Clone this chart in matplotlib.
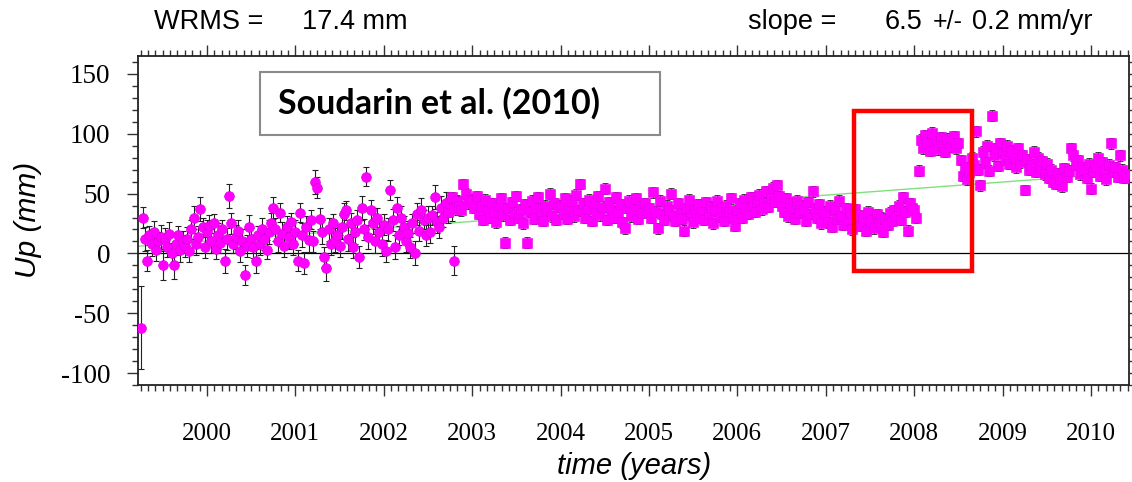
import matplotlib

matplotlib.use("Agg")
import matplotlib.pyplot as plt
import numpy as np
from matplotlib.patches import Rectangle
from matplotlib.ticker import MultipleLocator

# --- data -----------------------------------------------------------------
# early epochs: circles with error bars, one every 0.025 yr from 1999.25
circ_start = 1999.25
circ_step = 0.025
circ_up = [
    -62,
    30, 12, -6, 15, 8, 18, 3, 10, 14, -10,
    12, 5, 16, 0, -10, 8, 15, 3, 10, 6,
    12, 2, 20, 30, 8, 14, 37, 22, 5, 18,
    23, 10, 25, 4, 15, 9, 20, -6, 12, 48,
    25, 8, 14, 19, 2, 10, -18, 6, 22, 12,
    5, -6, 15, 8, 20, 12, 3, 18, 25, 38,
    20, 10, 34, 16, 6, 22, 14, 26, 8, 18,
    -6, 34, 15, -8, 22, 11, 28, 10, 60, 55,
    29, 18, -3, -12, 20, 8, 25, 11, 15, 6,
    22, 33, 36, 12, 25, 5, 18, 28, -3, 38,
    20, 64, 14, 36, 25, 10, 30, 18, 8, 24,
    2, 20, 53, 28, 5, 38, 15, 30, 22, 10,
    17, 5, 25, 0, 33, 19, 36, 28, 15, 30,
    18, 32, 47, 26, 22, 38, 30, 42, 35, 40, 36, -6, 40,
]
circ_err = [
    35,
    9, 10, 9, 8, 10, 9, 9, 8, 10, 12,
    9, 8, 10, 9, 11, 9, 8, 10, 9, 9,
    10, 9, 8, 10, 9, 9, 10, 8, 9, 10,
    9, 10, 8, 9, 10, 9, 8, 10, 9, 10,
    9, 8, 10, 9, 9, 10, 8, 9, 10, 9,
    9, 10, 8, 9, 10, 9, 8, 10, 9, 9,
    10, 9, 8, 10, 9, 9, 10, 8, 9, 10,
    9, 8, 10, 9, 9, 10, 8, 9, 10, 9,
    9, 10, 8, 11, 10, 9, 8, 10, 9, 9,
    10, 9, 8, 10, 9, 9, 10, 8, 9, 10,
    9, 8, 10, 9, 9, 10, 8, 9, 10, 9,
    9, 10, 8, 9, 10, 9, 8, 10, 9, 9,
    10, 9, 8, 10, 9, 9, 10, 8, 9, 10,
    9, 8, 10, 9, 9, 10, 8, 9, 10, 9, 9, 12, 8,
]

# later epochs: squares, one every 0.025 yr from 2002.725
sq_start = 2002.725
sq_step = 0.025
sq_sigma = 4.5
sq_up = [
    # 2002.725 - 2002.975
    35, 42, 47, 38, 44, 40, 36, 58, 50, 42, 45,
    # 2003
    44, 38, 48, 33, 40, 28, 45, 36, 30, 42,
    35, 26, 40, 46, 32, 9, 38, 28, 43, 34,
    48, 30, 37, 25, 41, 9, 35, 44, 29, 38,
    47, 33, 27, 40, 36, 50, 31, 42, 28, 39,
    # 2004
    40, 33, 46, 29, 38, 44, 31, 49, 36, 58,
    42, 30, 37, 45, 27, 40, 34, 48, 32, 39,
    54, 28, 43, 36, 30, 47, 35, 41, 26, 21,
    38, 44, 31, 37, 46, 29, 40, 34, 42, 36,
    # 2005
    38, 30, 51, 35, 21, 44, 33, 28, 40, 36,
    50, 31, 27, 42, 34, 29, 19, 38, 45, 32,
    26, 37, 41, 30, 35, 28, 43, 33, 39, 25,
    36, 44, 31, 38, 27, 40, 35, 46, 30, 23,
    # 2006
    36, 42, 30, 45, 38, 33, 47, 40, 35, 44,
    49, 37, 42, 52, 39, 46, 55, 43, 57, 48,
    40, 35, 46, 31, 42, 38, 29, 44, 34, 40,
    36, 27, 43, 33, 52, 38, 30, 41, 25, 35,
    # 2007
    33, 26, 40, 22, 36, 29, 44, 31, 24, 38,
    28, 34, 20, 37, 27, 32, 23, 30, 19, 35,
    25, 28, 21, 33, 26, 30, 18, 29, 24, 34,
    27, 36, 31, 40, 28, 47, 35, 19, 42, 38,
    # 2008
    36, 30, 69, 95, 88, 99, 92, 86, 101, 90,
    94, 87, 97, 91, 85, 96, 89, 93, 98, 88,
    92, 78, 65, 72, 62, 68, 80, 74, 102, 70,
    57, 85, 76, 90, 69, 115, 82, 88, 73, 92,
    # 2009
    84, 78, 90, 75, 86, 80, 72, 88, 76, 82,
    53, 79, 70, 74, 85, 68, 80, 73, 77, 66,
    75, 63, 70, 60, 58, 67, 62, 56, 71, 64,
    69, 88, 82, 74, 78, 66, 72, 70, 63, 75,
    # 2010.0 - 2010.4
    54, 68, 72, 80, 65, 76, 70, 62, 74, 92,
    68, 72, 64, 82, 70, 63, 66,
]

# fitted trend (green line)
trend_t = [1999.22, 2010.43]
trend_up = [6.0, 67.5]

# highlighted interval (red box)
box_t = [2007.32, 2008.65]
box_up = [-15, 119]

wrms_mm = 17.4
slope = 6.5
slope_err = 0.2

x_range = (1999.22, 2010.43)
y_range = (-110, 165)

# --- figure ---------------------------------------------------------------
plt.rcParams["axes.unicode_minus"] = False
plt.rcParams["font.family"] = "Liberation Serif"

circ_t = circ_start + circ_step * np.arange(len(circ_up))
sq_t = sq_start + sq_step * np.arange(len(sq_up))

fig = plt.figure(figsize=(11.32, 4.82), dpi=100)
ax = fig.add_axes([138 / 1132, 1 - 385 / 482, 991 / 1132, 329 / 482])

magenta = "#ff00ff"

ax.axhline(0.0, color="black", linewidth=0.9, zorder=1)
ax.plot(trend_t, trend_up, color="#7ee07e", linewidth=1.0, zorder=1.5)

ax.errorbar(circ_t, circ_up, yerr=circ_err, fmt="none", ecolor="#222222",
            elinewidth=0.8, capsize=2.5, capthick=0.8, zorder=2)
ax.plot(circ_t, circ_up, "o", color=magenta, markersize=7,
        markeredgecolor="#e000e0", markeredgewidth=0.5, zorder=3)

ax.errorbar(sq_t, sq_up, yerr=sq_sigma, fmt="none", ecolor="#222222",
            elinewidth=0.6, capsize=2.0, capthick=0.6, zorder=2.5)
ax.plot(sq_t, sq_up, "s", color=magenta, markersize=7.4,
        markeredgecolor="#e600e6", markeredgewidth=0.4, zorder=3)

ax.add_patch(Rectangle((box_t[0], box_up[0]), box_t[1] - box_t[0], box_up[1] - box_up[0],
                       fill=False, edgecolor="red", linewidth=3.2, zorder=6, clip_on=False))

# reference label box
ax.add_patch(Rectangle((0.123, 0.760), 0.404, 0.191, transform=ax.transAxes,
                       facecolor="white", edgecolor="#8a8a8a", linewidth=1.5, zorder=7))
ax.text(0.1413, 0.855, "Soudarin et al. (2010)", transform=ax.transAxes,
        ha="left", va="center", fontsize=24.5, fontweight="bold",
        family="Lato", zorder=8)

ax.set_xlim(*x_range)
ax.set_ylim(*y_range)
ax.xaxis.set_major_locator(MultipleLocator(1))
ax.xaxis.set_minor_locator(MultipleLocator(1 / 12))
ax.yaxis.set_major_locator(MultipleLocator(50))
ax.yaxis.set_minor_locator(MultipleLocator(10))
ax.tick_params(which="both", direction="out", top=True, right=True, width=1.0, color="#333333",
               labelfontfamily="Liberation Serif")
ax.tick_params(which="major", length=8)
ax.tick_params(which="minor", length=4.5)
ax.tick_params(axis="x", which="major", pad=19, labelsize=18)
ax.tick_params(axis="y", which="major", pad=12, labelsize=19.5)
for spine in ax.spines.values():
    spine.set_linewidth(1.3)
    spine.set_color("#222222")

fig.text(28 / 1132, 1 - 220 / 482, "Up (mm)", rotation=90, ha="center", va="center",
         fontsize=21.5, style="italic", family="Liberation Sans")
fig.text(634 / 1132, 1 - 466 / 482, "time (years)", ha="center", va="center",
         fontsize=21, style="italic", family="Liberation Sans")

hdr = dict(fontsize=19.5, family="Liberation Sans", va="center", ha="left")
fig.text(154 / 1132, 1 - 22 / 482, "WRMS =", **hdr)
fig.text(302 / 1132, 1 - 22 / 482, f"{wrms_mm:.1f} mm", **hdr)
fig.text(748 / 1132, 1 - 22 / 482, "slope =", **hdr)
fig.text(885 / 1132, 1 - 22 / 482, f"{slope:.1f}", **hdr)
fig.text(933 / 1132, 1 - 22 / 482, "+/-", **dict(hdr, fontsize=18))
fig.text(972 / 1132, 1 - 22 / 482, f"{slope_err:.1f} mm/yr", **hdr)

fig.savefig("out.png", dpi=100)
